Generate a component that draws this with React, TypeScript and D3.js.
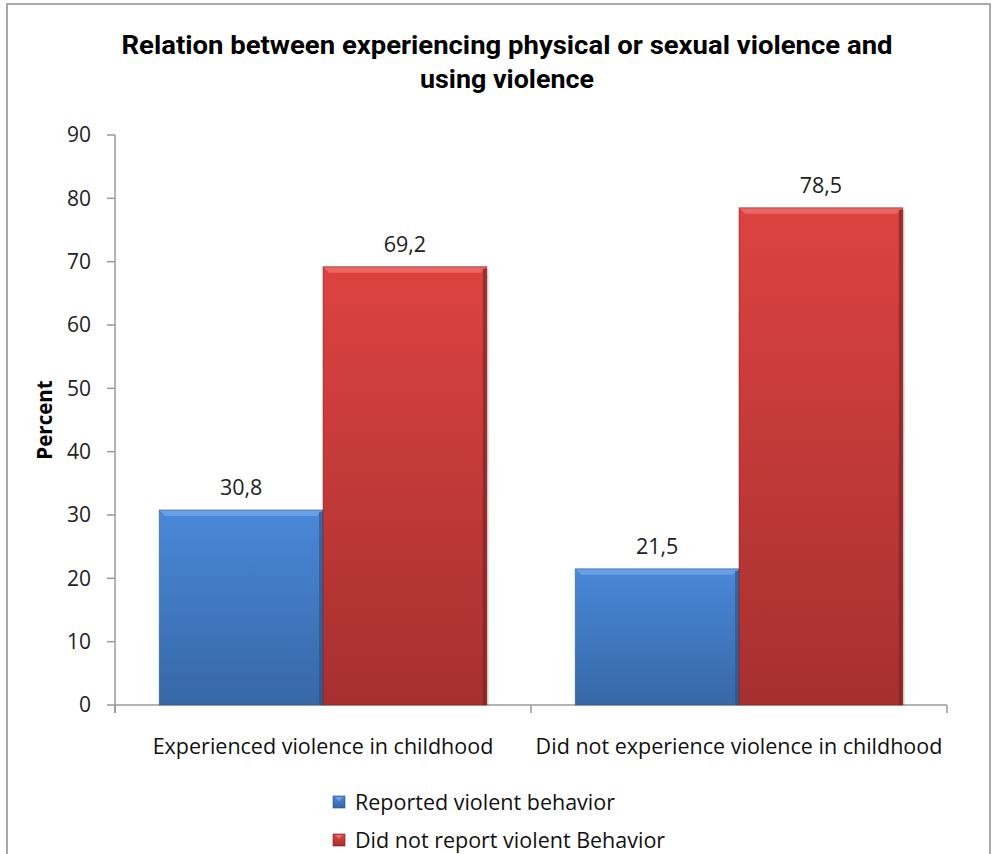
import React from "react";
import * as d3 from "d3";

const categories = ["Experienced violence in childhood", "Did not experience violence in childhood"];
const seriesNames = ["Reported violent behavior", "Did not report violent Behavior"];
const reportedValues = [30.8, 21.5];
const notReportedValues = [69.2, 78.5];
const yTicks = [0, 10, 20, 30, 40, 50, 60, 70, 80, 90];
const titleLines = ["Relation between experiencing physical or sexual violence and", "using violence"];

const W = 995, H = 854;
const plot = { left: 115, right: 947, top: 135, bottom: 705 };

export default function App() {
  const x0 = d3.scaleBand<string>().domain(categories).range([plot.left, plot.right]).paddingInner(0).paddingOuter(0);
  const x1 = d3.scaleBand<string>().domain(seriesNames).range([0, x0.bandwidth()]).paddingOuter(0.27).paddingInner(0);
  const y = d3.scaleLinear().domain([0, 90]).range([plot.bottom, plot.top]);
  const series = [
    { name: seriesNames[0], values: reportedValues, grad: "gBlue", edge: "#2c5283", hi: "#6fa3e6" },
    { name: seriesNames[1], values: notReportedValues, grad: "gRed", edge: "#7a1f1e", hi: "#ec6b6a" },
  ];
  const fmt = (v: number) => v.toFixed(1).replace(".", ",");
  const font = "'Open Sans', 'DejaVu Sans', sans-serif";
  const titleWidths = [771, 174];
  return (
    <svg width={W} height={H} style={{ position: "absolute", left: 0, top: 0, background: "#fff" }}>
      <defs>
        <linearGradient id="gBlue" x1="0" y1="0" x2="0" y2="1">
          <stop offset="0" stopColor="#4a88d8" />
          <stop offset="1" stopColor="#3767a6" />
        </linearGradient>
        <linearGradient id="gRed" x1="0" y1="0" x2="0" y2="1">
          <stop offset="0" stopColor="#dc4341" />
          <stop offset="1" stopColor="#a6302f" />
        </linearGradient>
      </defs>
      <rect x={7} y={4} width={983} height={900} fill="#fff" stroke="#8c8c8c" strokeWidth={1.5} />
      {titleLines.map((t, i) => (
        <text key={i} x={507} y={54 + i * 34} textAnchor="middle" textLength={titleWidths[i]} lengthAdjust="spacingAndGlyphs"
          fontFamily="'Liberation Sans Narrow', 'Roboto', sans-serif" fontWeight="bold" fontSize={25} fill="#000">{t}</text>
      ))}
      {/* y axis */}
      <line x1={plot.left} x2={plot.left} y1={plot.top} y2={plot.bottom + 8} stroke="#9a9a9a" strokeWidth={1.5} />
      {yTicks.map((t) => (
        <g key={t}>
          <line x1={plot.left - 8} x2={plot.left} y1={y(t)} y2={y(t)} stroke="#9a9a9a" strokeWidth={1.5} />
          <text x={91} y={y(t)} dy="0.35em" textAnchor="end" fontFamily={font} fontSize={21} fill="#222">{t}</text>
        </g>
      ))}
      <text transform={`translate(52,420) rotate(-90)`} textAnchor="middle" fontFamily={font} fontWeight="bold" fontSize={20.5} fill="#000">Percent</text>
      {/* x axis */}
      <line x1={plot.left} x2={plot.right} y1={plot.bottom} y2={plot.bottom} stroke="#9a9a9a" strokeWidth={1.5} />
      {[plot.left, ...categories.map((c) => (x0(c) as number) + x0.bandwidth())].map((p, i) => (
        <line key={i} x1={p} x2={p} y1={plot.bottom} y2={plot.bottom + 8} stroke="#9a9a9a" strokeWidth={1.5} />
      ))}
      {/* bars */}
      {categories.map((c, ci) => (
        <g key={c}>
          {series.map((s) => {
            const bx = (x0(c) as number) + (x1(s.name) as number);
            const bw = x1.bandwidth();
            const by = y(s.values[ci]);
            const bh = plot.bottom - by;
            return (
              <g key={s.name}>
                <rect x={bx + 2} y={by + 2} width={bw} height={bh - 2} fill="#000" opacity={0.12} />
                <rect x={bx} y={by} width={bw} height={bh} fill={`url(#${s.grad})`} />
                <polygon points={`${bx},${by} ${bx + bw},${by} ${bx + bw - 6},${by + 6} ${bx + 6},${by + 6}`} fill={s.hi} opacity={0.85} />
                <rect x={bx + bw - 4} y={by + 2} width={4} height={bh - 2} fill={s.edge} opacity={0.6} />
                <rect x={bx} y={by} width={bw} height={bh} fill="none" stroke={s.edge} strokeOpacity={0.5} strokeWidth={1} />
                <text x={bx + bw / 2} y={by - 22} dy="0.35em" textAnchor="middle" fontFamily={font} fontSize={21.5} fill="#222">{fmt(s.values[ci])}</text>
              </g>
            );
          })}
          <text x={(x0(c) as number) + x0.bandwidth() / 2} y={746} dy="0.35em" textAnchor="middle" fontFamily={font} fontSize={21.5} fill="#111">{c}</text>
        </g>
      ))}
      {/* legend */}
      {series.map((s, i) => (
        <g key={s.name} transform={`translate(333,${802 + i * 38})`}>
          <rect x={0} y={-6} width={12} height={12} fill={`url(#${s.grad})`} stroke={s.edge} strokeOpacity={0.6} />
          <polygon points="2,-5 10,-5 6,-1" fill={s.hi} />
          <text x={22} y={0} dy="0.35em" fontFamily={font} fontSize={21.5} fill="#111">{s.name}</text>
        </g>
      ))}
    </svg>
  );
}
